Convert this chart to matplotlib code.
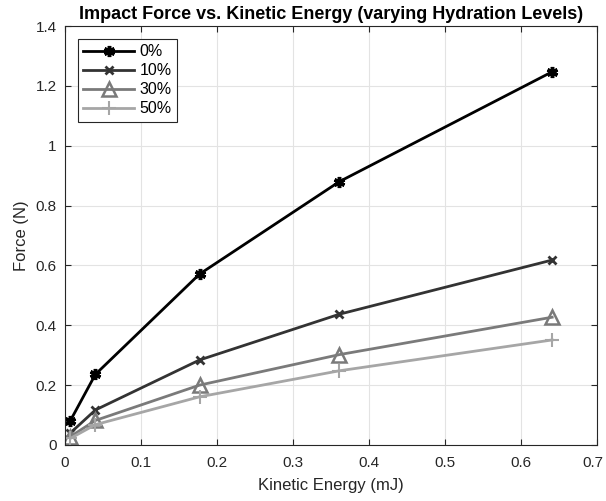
import matplotlib
matplotlib.use("Agg")
import matplotlib.pyplot as plt
import matplotlib.transforms as mtransforms

plt.rcParams['font.family'] = ['Liberation Sans', 'DejaVu Sans']

energy = [0.007, 0.04, 0.177, 0.361, 0.641]
force_0 = [0.081, 0.236, 0.571, 0.880, 1.247]
force_10 = [0.040, 0.117, 0.284, 0.437, 0.618]
force_30 = [0.028, 0.082, 0.200, 0.302, 0.427]
force_50 = [0.022, 0.068, 0.161, 0.248, 0.351]
labels = ['0%', '10%', '30%', '50%']
xticks = [0, 0.1, 0.2, 0.3, 0.4, 0.5, 0.6, 0.7]
xticklabels = ['0', '0.1', '0.2', '0.3', '0.4', '0.5', '0.6', '0.7']
yticks = [0, 0.2, 0.4, 0.6, 0.8, 1.0, 1.2, 1.4]
yticklabels = ['0', '0.2', '0.4', '0.6', '0.8', '1', '1.2', '1.4']

fig = plt.figure(figsize=(6.06, 5.01), dpi=100)
ax = fig.add_axes([65/606, 1-445/501, (597-65)/606, (445-26)/501])

ax.plot(energy, force_0, color='black', lw=2, marker=(6, 2, 0), ms=8, mew=2.5, label=labels[0])
ax.plot(energy, force_10, color='#333333', lw=2, marker='x', ms=6, mew=2, label=labels[1])
ax.plot(energy, force_30, color='#7a7a7a', lw=2, marker='^', ms=10, mew=1.8, mfc='none', label=labels[2])
ax.plot(energy, force_50, color='#a6a6a6', lw=2, marker='+', ms=10, mew=1.5, label=labels[3])

ax.set_xlim(0, 0.7)
ax.set_ylim(0, 1.4)
ax.set_xticks(xticks)
ax.set_xticklabels(xticklabels)
ax.set_yticks(yticks)
ax.set_yticklabels(yticklabels)
ax.grid(True, color='#e3e3e3', lw=0.8)
ax.set_axisbelow(True)
ax.tick_params(direction='in', top=True, right=True, labelsize=11, colors='#262626', length=4, pad=6)
ax.tick_params(axis='x', pad=8)
for s in ax.spines.values():
    s.set_color('#262626')
    s.set_linewidth(0.8)

last = ax.get_xticklabels()[-1]
last.set_transform(last.get_transform() + mtransforms.ScaledTranslation(-4/100, 0, fig.dpi_scale_trans))

ax.set_xlabel('Kinetic Energy (mJ)', fontsize=12, color='#262626', labelpad=6)
ax.set_ylabel('Force (N)', fontsize=12, color='#262626', labelpad=5)
ax.set_title('Impact Force vs. Kinetic Energy (varying Hydration Levels)', fontsize=13, fontweight='bold', pad=5)

leg = ax.legend(loc='upper left', fontsize=11.5, handlelength=3.2, framealpha=1, fancybox=False,
                edgecolor='#262626', borderaxespad=0.8, labelspacing=0.25, handletextpad=0.3,
                borderpad=0.35)
leg.get_frame().set_linewidth(0.8)

fig.savefig('out.png', dpi=100)
